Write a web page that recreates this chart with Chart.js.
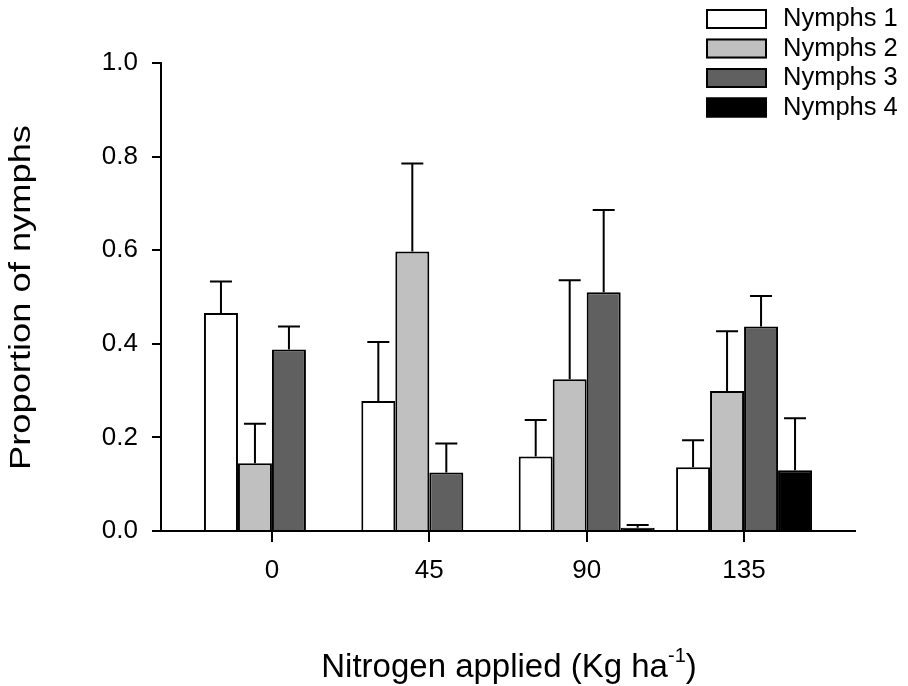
<!DOCTYPE html>
<html><head><meta charset="utf-8">
<script src="https://cdn.jsdelivr.net/npm/chart.js@4/dist/chart.umd.min.js"></script>
<style>html,body{margin:0;padding:0;background:#fff;}#wrap{width:908px;height:686px;position:relative;}canvas{display:block;}</style>
</head><body><div id="wrap"><canvas id="c" width="908" height="686"></canvas></div>
<script>
const categories = ['0', '45', '90', '135'];
const seriesNames = ['Nymphs 1', 'Nymphs 2', 'Nymphs 3', 'Nymphs 4'];
const nymphs1 = [0.466, 0.278, 0.159, 0.136];
const nymphs2 = [0.145, 0.597, 0.324, 0.299];
const nymphs3 = [0.388, 0.125, 0.510, 0.437];
const nymphs4 = [0.000, 0.000, 0.007, 0.130];
const err1 = [0.067, 0.126, 0.078, 0.058];
const err2 = [0.084, 0.188, 0.212, 0.128];
const err3 = [0.049, 0.062, 0.176, 0.065];
const err4 = [0.000, 0.000, 0.006, 0.111];
const yTickLabels = ['0.0', '0.2', '0.4', '0.6', '0.8', '1.0'];
const xTitle = 'Nitrogen applied (Kg ha';
const xTitleSup = '-1';
const xTitleEnd = ')';
const yTitle = 'Proportion of nymphs';

const values = [nymphs1, nymphs2, nymphs3, nymphs4];
const errors = [err1, err2, err3, err4];
const fills = ['#ffffff', '#c0c0c0', '#606060', '#000000'];
const FONT = "'Liberation Sans', Arial, sans-serif";
Chart.defaults.font.family = FONT;
Chart.defaults.color = '#000';

const errorBars = {
  id: 'errorBars',
  afterDatasetsDraw(chart) {
    const ctx = chart.ctx, ys = chart.scales.y;
    ctx.save();
    ctx.strokeStyle = '#000';
    ctx.lineWidth = 2;
    chart.data.datasets.forEach((ds, k) => {
      const meta = chart.getDatasetMeta(k);
      meta.data.forEach((bar, i) => {
        const e = errors[k][i];
        if (!e) return;
        const top = ys.getPixelForValue(values[k][i] + e);
        ctx.beginPath();
        ctx.moveTo(bar.x, bar.y);
        ctx.lineTo(bar.x, top);
        ctx.moveTo(bar.x - 11, top);
        ctx.lineTo(bar.x + 11, top);
        ctx.stroke();
      });
    });
    ctx.restore();
  }
};

const customText = {
  id: 'customText',
  afterDraw(chart) {
    const ctx = chart.ctx;
    const xs = chart.scales.x, area = chart.chartArea;
    ctx.save();
    // category tick marks on the x axis
    ctx.fillStyle = '#000';
    categories.forEach((c, i) => {
      const px = Math.round(xs.getPixelForValue(i));
      ctx.fillRect(px - 1, area.bottom - 1, 2, 12);
    });
    // legend
    chart.data.datasets.forEach((ds, k) => {
      const top = 9 + k * 29.5;
      ctx.fillStyle = ds.backgroundColor;
      ctx.fillRect(706, top, 61, 20);
      ctx.strokeStyle = '#000';
      ctx.lineWidth = 2;
      ctx.strokeRect(707, top + 1, 59, 18);
      ctx.fillStyle = '#000';
      ctx.font = '25.5px ' + FONT;
      ctx.textBaseline = 'middle';
      ctx.textAlign = 'left';
      ctx.fillText(ds.label, 783, top + 10);
    });
    // x title with superscript
    ctx.textBaseline = 'alphabetic';
    const big = '33px ' + FONT, small = '20px ' + FONT;
    ctx.font = big; const w1 = ctx.measureText(xTitle).width; const w3 = ctx.measureText(xTitleEnd).width;
    ctx.font = small; const w2 = ctx.measureText(xTitleSup).width;
    const total = w1 + w2 + w3;
    let x = 509 - total / 2;
    const base = 677;
    ctx.font = big; ctx.fillText(xTitle, x, base); x += w1;
    ctx.font = small; ctx.fillText(xTitleSup, x, base - 15); x += w2;
    ctx.font = big; ctx.fillText(xTitleEnd, x, base);
    // y title, rotated
    ctx.font = '29px ' + FONT;
    const wy = ctx.measureText(yTitle).width;
    ctx.translate(30, 297.5);
    ctx.rotate(-Math.PI / 2);
    ctx.scale(345 / wy, 1);
    ctx.textAlign = 'center';
    ctx.fillText(yTitle, 0, 0);
    ctx.restore();
  }
};

new Chart(document.getElementById('c'), {
  type: 'bar',
  data: {
    datasets: seriesNames.map((name, k) => ({
      label: name,
      data: values[k].map((v, i) => ({ x: i, y: v })),
      backgroundColor: fills[k],
      borderColor: '#000',
      borderWidth: 2,
      categoryPercentage: 0.864,
      barPercentage: 1.0
    }))
  },
  options: {
    responsive: false,
    animation: false,
    devicePixelRatio: 1,
    layout: { padding: { top: 63, right: 53, left: 0, bottom: 0 } },
    plugins: { legend: { display: false }, tooltip: { enabled: false } },
    scales: {
      x: {
        type: 'linear',
        min: -0.705,
        max: 3.705,
        offset: false,
        afterBuildTicks: s => { s.ticks = categories.map((c, i) => ({ value: i })); },
        ticks: { callback: v => categories[v], autoSkip: false, maxRotation: 0, padding: 24, color: '#000', font: { size: 26 } },
        grid: { offset: false, drawOnChartArea: false, drawTicks: false, color: '#000', lineWidth: 2 },
        border: { display: true, color: '#000', width: 2 },
        afterFit: s => { s.height = 155; }
      },
      y: {
        min: 0,
        max: 1,
        ticks: { stepSize: 0.2, callback: (v, i) => yTickLabels[i], padding: 14, color: '#000', font: { size: 26 } },
        grid: { drawOnChartArea: false, drawTicks: true, tickLength: 9, color: '#000', lineWidth: 2 },
        border: { display: true, color: '#000', width: 2 },
        afterFit: s => { s.width = 161; }
      }
    }
  },
  plugins: [errorBars, customText]
});
</script></body></html>
